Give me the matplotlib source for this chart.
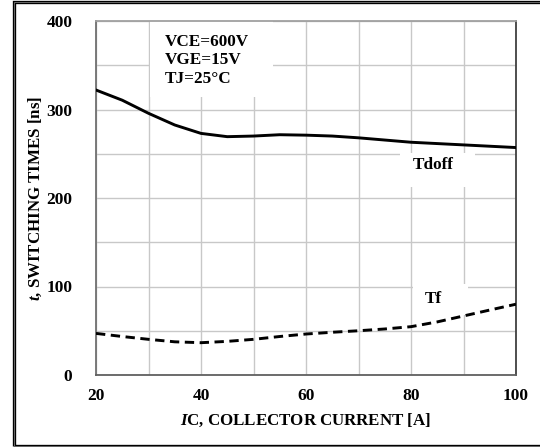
import matplotlib
matplotlib.use("Agg")
import matplotlib.pyplot as plt
from matplotlib.patches import Rectangle

plt.rcParams["font.family"] = ["Liberation Serif", "DejaVu Serif"]
plt.rcParams["font.weight"] = "bold"
plt.rcParams["mathtext.fontset"] = "custom"
plt.rcParams["mathtext.it"] = "Liberation Serif:italic:bold"
plt.rcParams["mathtext.rm"] = "Liberation Serif:bold"

# Collector current [A] and switching times [ns]
ic_tdoff = [20, 25, 30, 35, 40, 45, 50, 55, 60, 65, 70, 75, 80, 85, 90, 95, 100]
tdoff = [322, 310.5, 295.7, 282.5, 273, 269.3, 270, 271.5, 271, 270, 268, 265.5,
         263, 261.5, 260, 258.5, 257]

ic_tf = [20, 25, 30, 35, 40, 45, 50, 55, 60, 65, 70, 75, 80, 85, 90, 95, 100]
tf = [47, 43.5, 40.3, 37.5, 36.5, 38, 40.3, 43.5, 46.3, 48.3, 50, 52, 54.6, 60,
      66.7, 73.4, 80]

x_ticks = [20, 40, 60, 80, 100]
y_ticks = [0, 100, 200, 300, 400]
conditions = ["VCE=600V", "VGE=15V", "TJ=25°C"]

fig = plt.figure(figsize=(5.40, 4.47), dpi=100)
ax = fig.add_axes([96 / 540, 72 / 447, 420 / 540, 354 / 447])

# outer double frame
fig.patches.append(Rectangle((13.5 / 540, 1.5 / 447), 1.05, 444 / 447,
                             transform=fig.transFigure, fill=False,
                             edgecolor="black", linewidth=2.4, zorder=0))
fig.patches.append(Rectangle((13.5 / 540, 1.5 / 447), 1.05, 444 / 447,
                             transform=fig.transFigure, fill=False,
                             edgecolor="#909090", linewidth=0.5, zorder=0))

ax.set_xlim(20, 100)
ax.set_ylim(0, 400)
ax.set_xticks(range(20, 101, 10))
ax.set_yticks(range(0, 401, 50))
ax.grid(True, color="#c8c8c8", linewidth=1.0, zorder=0)
ax.set_axisbelow(True)

ax.set_xticklabels([str(v) if v in x_ticks else "" for v in range(20, 101, 10)])
ax.set_yticklabels([str(v) if v in y_ticks else "" for v in range(0, 401, 50)])
ax.tick_params(length=0, labelsize=12.5)
ax.tick_params(axis="y", pad=17)
ax.tick_params(axis="x", pad=9)

for lab in ax.get_xticklabels() + ax.get_yticklabels():
    lab.set_fontweight("bold")

ax.spines["top"].set_color("#a0a0a0")
ax.spines["left"].set_color("#707070")
ax.spines["bottom"].set_color("#606060")
ax.spines["right"].set_color("#404040")
for s in ax.spines.values():
    s.set_linewidth(1.3)

# white label backgrounds
for (x0, y0, w, h) in [(30.3, 314, 23.4, 86), (77.9, 212, 14.3, 39), (80.4, 68, 10.5, 35)]:
    ax.add_patch(Rectangle((x0, y0), w, h, facecolor="white", edgecolor="none", zorder=1))

ax.plot(ic_tdoff, tdoff, color="black", linewidth=2.1, zorder=3,
        solid_joinstyle="round")
ax.plot(ic_tf, tf, color="black", linewidth=2.1, linestyle=(0, (3.2, 1.9)), zorder=3)

for i, line in enumerate(conditions):
    ax.text(33.1, 376 - i * 20.5, line, fontsize=12.3, fontweight="bold",
            va="center", ha="left", zorder=4)
ax.text(84.2, 237, "Tdoff", fontsize=12.3, fontweight="bold", ha="center", va="center", zorder=4)
ax.text(84.2, 86, "Tf", fontsize=12.3, fontweight="bold", ha="center", va="center", zorder=4)

ax.set_xlabel(r"$\mathit{I}$C, COLLECTOR CURRENT [A]", fontsize=12.2, fontweight="bold", labelpad=6)
ax.set_ylabel(r"$\mathit{t}$, SWITCHING TIMES [ns]", fontsize=12.2, fontweight="bold", labelpad=2)

fig.savefig("out.png", dpi=100, facecolor="white")
